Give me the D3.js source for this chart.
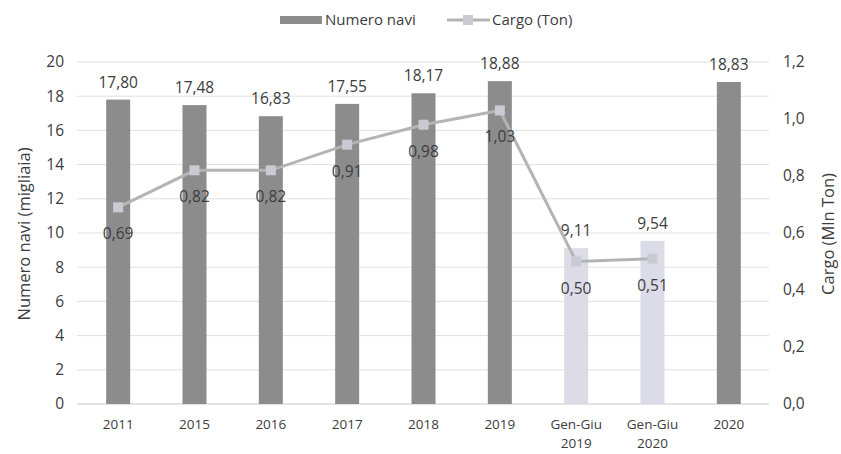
<!DOCTYPE html>
<html><head><meta charset="utf-8">
<script src="https://cdn.jsdelivr.net/npm/d3@7"></script>
<style>body{margin:0;background:#fff}svg{display:block}text{font-family:"Open Sans",sans-serif;fill:#3c3c3c}</style>
</head><body><svg id="c" width="841" height="454"></svg>
<script>
const categories = ["2011","2015","2016","2017","2018","2019","Gen-Giu\n2019","Gen-Giu\n2020","2020"];
const navi = [17.80,17.48,16.83,17.55,18.17,18.88,9.11,9.54,18.83];
const cargo = [0.69,0.82,0.82,0.91,0.98,1.03,0.50,0.51,null];
const partial = [false,false,false,false,false,false,true,true,false];
const leftTicks = [0,2,4,6,8,10,12,14,16,18,20];
const rightTicks = [0,0.2,0.4,0.6,0.8,1.0,1.2];

const FS = "15.5px";
const svg = d3.select("#c");
const m = {l:80,r:767,t:62,b:404};
const x = d3.scaleBand().domain(d3.range(categories.length)).range([m.l,m.r]);
const yL = d3.scaleLinear().domain([0,20]).range([m.b,m.t]);
const yR = d3.scaleLinear().domain([0,1.2]).range([m.b,m.t]);
const fmt = d3.format(".2f");
const it = v => fmt(v).replace(".",",");

// gridlines
svg.append("g").selectAll("line").data(leftTicks).join("line")
  .attr("x1",m.l-3).attr("x2",m.r+2).attr("y1",d=>yL(d)).attr("y2",d=>yL(d))
  .attr("stroke",d=>d===0?"#c8c8c8":"#e0e0e0").attr("stroke-width",1);

// left axis
const axL = d3.axisLeft(yL).tickValues(leftTicks).tickSize(0).tickPadding(16);
const gL = svg.append("g").attr("transform",`translate(${m.l},0)`).call(axL);
gL.select(".domain").remove();
gL.selectAll("text").style("font-size",FS).style("fill","#3c3c3c").style("font-family","Open Sans");

// right axis
const axR = d3.axisRight(yR).tickValues(rightTicks).tickSize(0).tickPadding(16).tickFormat(d=>d3.format(".1f")(d).replace(".",","));
const gR = svg.append("g").attr("transform",`translate(${m.r},0)`).call(axR);
gR.select(".domain").remove();
gR.selectAll("text").style("font-size",FS).style("fill","#3c3c3c").style("font-family","Open Sans");

// x labels
const xl = svg.append("g").selectAll("text").data(categories).join("text")
  .attr("text-anchor","middle").style("font-size","13.5px")
  .attr("transform",(d,i)=>`translate(${x(i)+x.bandwidth()/2},${m.b+25})`);
xl.each(function(d){
  const t = d3.select(this);
  d.split("\n").forEach((s,k)=>t.append("tspan").attr("x",0).attr("dy",k?19:0).text(s));
});

// bars
const bw = 24;
svg.append("g").selectAll("rect").data(navi).join("rect")
  .attr("x",(d,i)=>x(i)+x.bandwidth()/2-bw/2).attr("width",bw)
  .attr("y",d=>yL(d)).attr("height",d=>m.b-yL(d))
  .attr("fill",(d,i)=>partial[i]?"#dcdce8":"#8c8c8c");

// bar labels
svg.append("g").selectAll("text").data(navi).join("text")
  .attr("x",(d,i)=>x(i)+x.bandwidth()/2).attr("y",d=>yL(d)-12)
  .attr("text-anchor","middle").style("font-size",FS).text(d=>it(d));

// line
const pts = cargo.map((v,i)=>({v,i})).filter(d=>d.v!=null);
const line = d3.line().x(d=>x(d.i)+x.bandwidth()/2).y(d=>yR(d.v));
svg.append("path").datum(pts).attr("d",line).attr("fill","none")
  .attr("stroke","#b4b4b4").attr("stroke-width",3);
svg.append("g").selectAll("rect").data(pts).join("rect")
  .attr("x",d=>x(d.i)+x.bandwidth()/2-5).attr("y",d=>yR(d.v)-5)
  .attr("width",10).attr("height",10).attr("fill","#cacad4");
svg.append("g").selectAll("text").data(pts).join("text")
  .attr("x",d=>x(d.i)+x.bandwidth()/2).attr("y",d=>yR(d.v)+32)
  .attr("text-anchor","middle").style("font-size",FS).text(d=>it(d.v));

// axis titles
svg.append("text").attr("transform","translate(30,234) rotate(-90)")
  .attr("text-anchor","middle").style("font-size","16.5px").text("Numero navi (migliaia)");
svg.append("text").attr("transform","translate(834,234) rotate(-90)")
  .attr("text-anchor","middle").style("font-size","16.5px").text("Cargo (Mln Ton)");

// legend
const lg = svg.append("g");
lg.append("rect").attr("x",280).attr("y",16).attr("width",42).attr("height",8).attr("fill","#8c8c8c");
lg.append("text").attr("x",325).attr("y",25).style("font-size","15px").text("Numero navi");
lg.append("line").attr("x1",447).attr("x2",490).attr("y1",20).attr("y2",20).attr("stroke","#b4b4b4").attr("stroke-width",3);
lg.append("rect").attr("x",463).attr("y",15).attr("width",10).attr("height",10).attr("fill","#cacad4");
lg.append("text").attr("x",492).attr("y",25).style("font-size","15px").text("Cargo (Ton)");
</script></body></html>
